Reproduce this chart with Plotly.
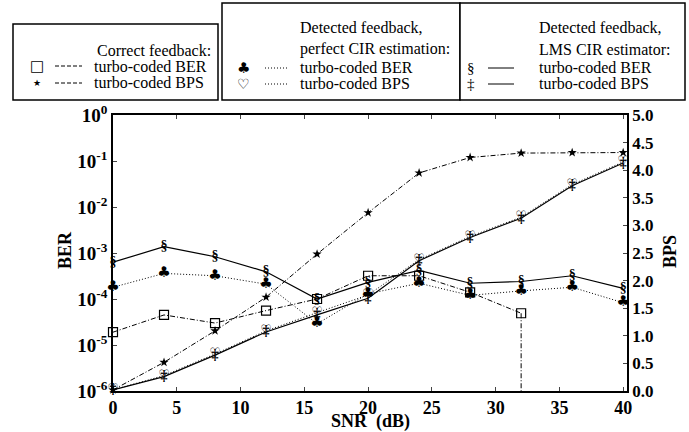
import plotly.graph_objects as go

# ---------------- data ----------------
snr = [0, 4, 8, 12, 16, 20, 24, 28, 32, 36, 40]
snr_correct_ber = [0, 4, 8, 12, 16, 20, 24, 28, 32]
correct_ber = [1.9e-5, 4.5e-5, 3.0e-5, 5.6e-5, 1.0e-4, 3.2e-4, 3.2e-4, 1.4e-4, 4.9e-5]
snr_correct_ber_drop = [32, 32]
correct_ber_drop = [4.9e-5, 1e-9]          # BER becomes zero above 32 dB
correct_bps = [0.02, 0.52, 1.09, 1.70, 2.48, 3.23, 3.95, 4.23, 4.31, 4.32, 4.32]
perfect_ber = [1.8e-4, 3.6e-4, 3.2e-4, 2.1e-4, 2.9e-5, 1.3e-4, 2.2e-4, 1.2e-4, 1.5e-4, 1.8e-4, 8.3e-5]
perfect_bps = [0.02, 0.28, 0.67, 1.09, 1.42, 1.74, 2.38, 2.80, 3.15, 3.74, 4.15]
lms_ber = [6.3e-4, 1.37e-3, 8.3e-4, 3.9e-4, 1.0e-4, 2.3e-4, 4.2e-4, 2.2e-4, 2.4e-4, 3.2e-4, 1.7e-4]
lms_bps = [0.02, 0.26, 0.65, 1.07, 1.38, 1.68, 2.36, 2.78, 3.13, 3.72, 4.13]

x_ticks = [0, 5, 10, 15, 20, 25, 30, 35, 40]
ber_tickvals = [1e-6, 1e-5, 1e-4, 1e-3, 1e-2, 1e-1, 1]
ber_ticktext = ["10<sup>-6</sup>", "10<sup>-5</sup>", "10<sup>-4</sup>", "10<sup>-3</sup>",
                "10<sup>-2</sup>", "10<sup>-1</sup>", "10<sup>0</sup>"]

# ---------------- styling ----------------
W, H = 689, 432
L, R, T, B = 113, 627, 115, 391
SERIF = "Liberation Serif"
SYM = "DejaVu Sans"
DASHDOT = "5px,2px,1px,2px"
DOT = "1px,2px"


def xp(px):
    return (px - L) / (R - L)


def yp(py):
    return (B - py) / (B - T)


fig = go.Figure()

# Correct feedback BER (squares, dash-dot)
fig.add_trace(go.Scatter(x=snr_correct_ber, y=correct_ber, mode="lines+markers",
                         line=dict(color="black", width=1, dash=DASHDOT),
                         marker=dict(symbol="square-open", size=9, color="black",
                                     line=dict(width=1.2, color="black")),
                         cliponaxis=False, showlegend=False))
fig.add_trace(go.Scatter(x=snr_correct_ber_drop, y=correct_ber_drop, mode="lines",
                         line=dict(color="black", width=1, dash=DASHDOT), showlegend=False))
# Correct feedback BPS (stars, dash-dot)
fig.add_trace(go.Scatter(x=snr, y=correct_bps, yaxis="y2", mode="lines+markers",
                         line=dict(color="black", width=1, dash=DASHDOT),
                         marker=dict(symbol="star", size=7, color="black"),
                         cliponaxis=False, showlegend=False))
# Perfect CIR BER (clubs, dotted)
fig.add_trace(go.Scatter(x=snr, y=perfect_ber, mode="lines+text",
                         text=["♣"] * len(snr), textposition="middle center",
                         textfont=dict(family=SYM, size=15, color="black"),
                         line=dict(color="black", width=1, dash=DOT),
                         cliponaxis=False, showlegend=False))
# Perfect CIR BPS (hearts, dotted)
fig.add_trace(go.Scatter(x=snr, y=perfect_bps, yaxis="y2", mode="lines+text",
                         text=["♡"] * len(snr), textposition="middle center",
                         textfont=dict(family=SYM, size=13, color="black", weight="bold"),
                         line=dict(color="black", width=1, dash=DOT),
                         cliponaxis=False, showlegend=False))
# LMS BER (section signs, solid)
fig.add_trace(go.Scatter(x=snr, y=lms_ber, mode="lines+text",
                         text=["§"] * len(snr), textposition="middle center",
                         textfont=dict(family=SERIF, size=14, color="black", weight="bold"),
                         line=dict(color="black", width=1.2),
                         cliponaxis=False, showlegend=False))
# LMS BPS (double daggers, solid)
fig.add_trace(go.Scatter(x=snr, y=lms_bps, yaxis="y2", mode="lines+text",
                         text=["‡"] * len(snr), textposition="middle center",
                         textfont=dict(family=SERIF, size=14, color="black", weight="bold"),
                         line=dict(color="black", width=1.2),
                         cliponaxis=False, showlegend=False))

shapes = []
annotations = []

# legend boxes
for x0, y0, x1, y1 in [(13, 24, 218, 100), (222, 3, 460, 100), (460, 3, 685, 100)]:
    shapes.append(dict(type="rect", xref="paper", yref="paper",
                       x0=xp(x0), x1=xp(x1), y0=yp(y1), y1=yp(y0),
                       line=dict(color="black", width=1.5), fillcolor="white", layer="above"))


def txt(x, y, s, anchor="left", size=16, family=SERIF, weight="normal"):
    annotations.append(dict(xref="paper", yref="paper", x=xp(x), y=yp(y), text=s,
                            showarrow=False, xanchor=anchor, yanchor="middle",
                            font=dict(family=family, size=size, color="black", weight=weight)))


def seg(x0, x1, y, dash):
    shapes.append(dict(type="line", xref="paper", yref="paper", x0=xp(x0), x1=xp(x1),
                       y0=yp(y), y1=yp(y), line=dict(color="black", width=1, dash=dash)))


# box 1
txt(213, 50, "Correct feedback:", anchor="right")
txt(37, 66, "□", anchor="center", size=15, family=SYM)
seg(55, 82, 66, "4px,2px")
txt(92, 66, "turbo-coded BER")
txt(37, 83, "★", anchor="center", size=9, family=SYM)
seg(55, 82, 83, "4px,2px")
txt(92, 83, "turbo-coded BPS")
# box 2
txt(298, 28, "Detected feedback,")
txt(298, 49, "perfect CIR estimation:")
txt(243, 68, "♣", anchor="center", size=15, family=SYM)
seg(265, 288, 68, DOT)
txt(298, 68, "turbo-coded BER")
txt(243, 84, "♡", anchor="center", size=14, family=SYM, weight="bold")
seg(265, 288, 84, DOT)
txt(298, 84, "turbo-coded BPS")
# box 3
txt(537, 28, "Detected feedback,")
txt(537, 49, "LMS CIR estimator:")
txt(471, 68, "§", anchor="center", size=15)
seg(488, 514, 68, "solid")
txt(537, 68, "turbo-coded BER")
txt(471, 84, "‡", anchor="center", size=15)
seg(488, 514, 84, "solid")
txt(537, 84, "turbo-coded BPS")

# axis titles
annotations.append(dict(xref="paper", yref="paper", x=xp(65), y=yp(250), text="<b>BER</b>",
                        textangle=-90, showarrow=False, xanchor="center", yanchor="middle",
                        font=dict(family=SERIF, size=18, color="black")))
annotations.append(dict(xref="paper", yref="paper", x=xp(670), y=yp(252), text="<b>BPS</b>",
                        textangle=-90, showarrow=False, xanchor="center", yanchor="middle",
                        font=dict(family=SERIF, size=18, color="black")))
annotations.append(dict(xref="paper", yref="paper", x=xp(370), y=yp(421), text="<b>SNR  (dB)</b>",
                        showarrow=False, xanchor="center", yanchor="middle",
                        font=dict(family=SERIF, size=18, color="black")))

fig.update_layout(
    width=W, height=H,
    margin=dict(l=L, r=W - R, t=T, b=H - B, pad=0),
    paper_bgcolor="white", plot_bgcolor="white",
    showlegend=False,
    shapes=shapes, annotations=annotations,
    xaxis=dict(range=[0, 40.3], tickvals=x_ticks, ticks="inside", ticklen=4,
               showline=True, linecolor="black", linewidth=1.5, mirror="ticks",
               showgrid=False, zeroline=False,
               tickfont=dict(family=SERIF, size=18, color="black", weight="bold")),
    yaxis=dict(type="log", range=[-6, 0], tickvals=ber_tickvals, ticktext=ber_ticktext,
               ticks="inside", ticklen=4, showline=True, linecolor="black", linewidth=1.5,
               showgrid=False, zeroline=False,
               tickfont=dict(family=SERIF, size=19, color="black", weight="bold")),
    yaxis2=dict(overlaying="y", side="right", range=[0, 5], dtick=0.5, tick0=0,
                tickformat=".1f", ticks="inside", ticklen=4, showline=True,
                linecolor="black", linewidth=1.5, showgrid=False, zeroline=False,
                tickfont=dict(family=SERIF, size=17, color="black", weight="bold")),
)

fig.write_html("out.html", config={"displayModeBar": False},
               post_script="document.body.style.margin='0';")
